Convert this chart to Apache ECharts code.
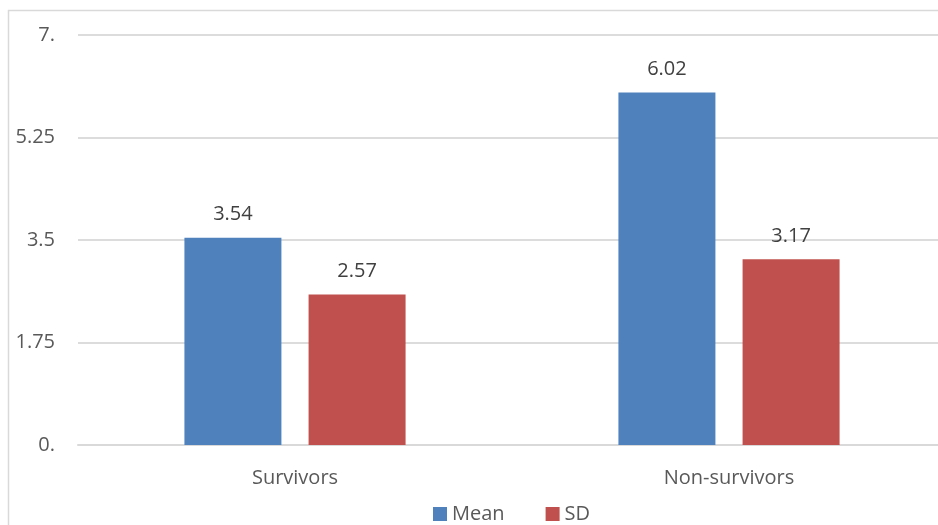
<!DOCTYPE html>
<html>
<head>
<meta charset="utf-8">
<script src="https://cdn.jsdelivr.net/npm/echarts@6/dist/echarts.min.js"></script>
<style>
  html, body { margin: 0; padding: 0; background: #fff; }
  #chart { width: 938px; height: 525px; }
</style>
</head>
<body>
<div id="chart"></div>
<script>
const categories = ['Survivors', 'Non-survivors']
const meanValues = [3.54, 6.02]
const sdValues = [2.57, 3.17]
const yTicks = ['0.', '1.75', '3.5', '5.25', '7.']

const labelFont = { fontFamily: 'Open Sans', fontSize: 20, color: '#404040' }

const chart = echarts.init(document.getElementById('chart'))

chart.setOption({
  animation: false,
  graphic: [
    {
      type: 'rect',
      shape: { x: 8.5, y: 10.5, width: 940, height: 530 },
      style: { fill: 'none', stroke: '#d9d9d9', lineWidth: 1.5 },
      silent: true,
    },
  ],
  grid: { left: 78, width: 868, top: 35, height: 410, outerBoundsMode: 'none', containLabel: false },
  legend: {
    top: 499,
    left: 428,
    itemWidth: 14,
    itemHeight: 14,
    itemGap: 41,
    icon: 'rect',
    textStyle: { fontFamily: 'Open Sans', fontSize: 20, color: '#595959' },
    data: ['Mean', 'SD'],
  },
  xAxis: {
    type: 'category',
    data: categories,
    axisLine: { lineStyle: { color: '#d9d9d9', width: 2 } },
    axisTick: { show: false },
    axisLabel: { fontFamily: 'Open Sans', fontSize: 20, color: '#595959', margin: 23 },
  },
  yAxis: {
    type: 'value',
    min: 0,
    max: 7,
    interval: 1.75,
    axisLine: { show: false },
    axisTick: { show: false },
    splitLine: { lineStyle: { color: '#dcdcdc', width: 2 } },
    axisLabel: {
      fontFamily: 'Open Sans',
      fontSize: 20,
      color: '#595959',
      margin: 23,
      formatter: (v) => yTicks[Math.round(v / 1.75)],
    },
  },
  series: [
    {
      name: 'Mean',
      type: 'bar',
      data: meanValues,
      barWidth: 97,
      barGap: '28%',
      itemStyle: { color: '#4f81bd' },
      label: { show: true, position: 'top', distance: 13, ...labelFont },
    },
    {
      name: 'SD',
      type: 'bar',
      data: sdValues,
      barWidth: 97,
      itemStyle: { color: '#c0504d' },
      label: { show: true, position: 'top', distance: 13, ...labelFont },
    },
  ],
})
</script>
</body>
</html>
